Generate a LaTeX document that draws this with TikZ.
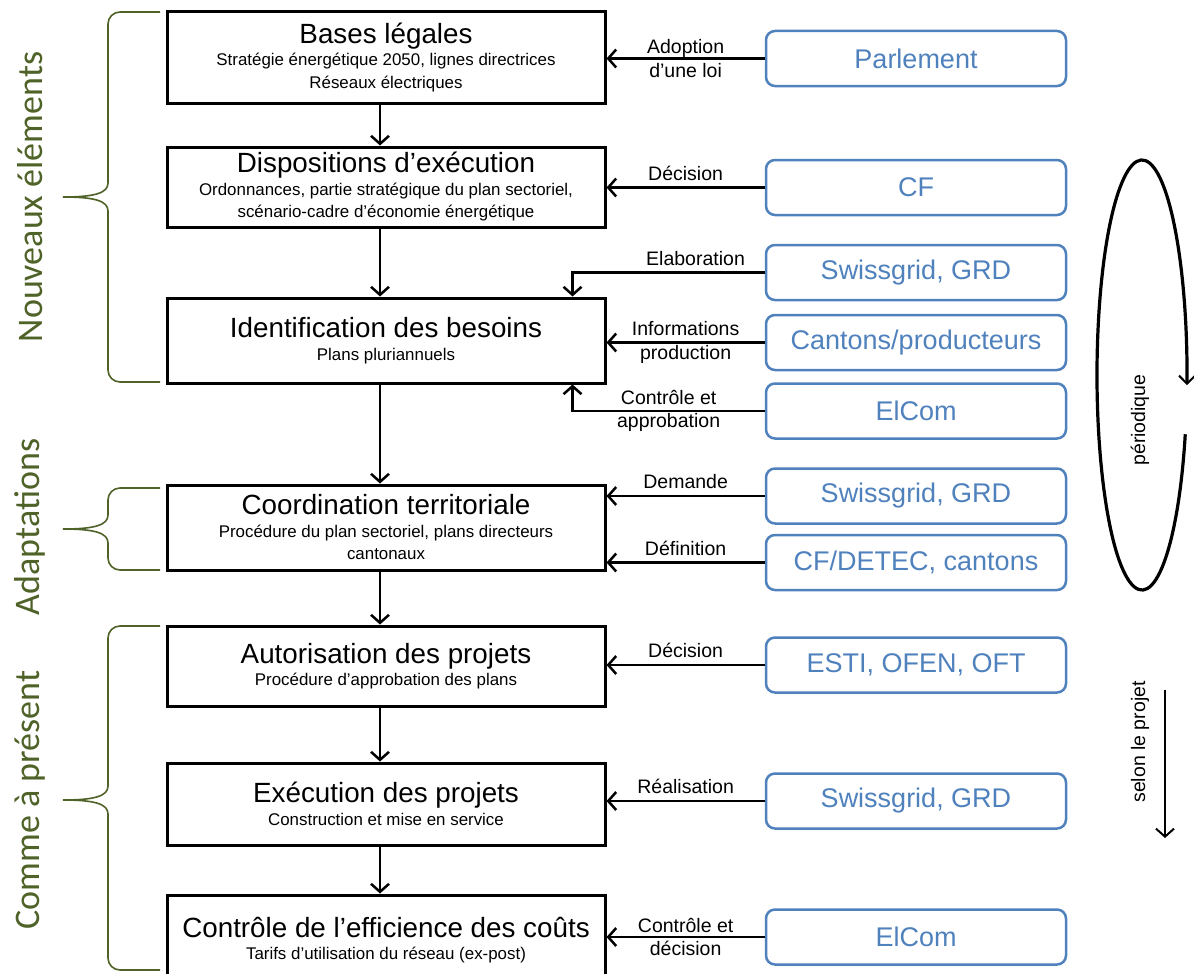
\documentclass[tikz,border=0pt]{standalone}
\usepackage{fontspec}
\setmainfont{Liberation Sans}
\newfontfamily\grpfont{Carlito}
\usetikzlibrary{arrows.meta}

\definecolor{actblue}{RGB}{79,129,189}
\definecolor{grpgreen}{RGB}{79,98,40}

\tikzset{
  stage/.style={draw, line width=3pt, minimum width=438pt, inner sep=0pt, align=center, font=\fontsize{16.9}{22.5}\selectfont},
  actor/.style={draw=actblue, line width=2.5pt, rounded corners=9pt, minimum width=300pt, minimum height=55pt, text=actblue, font=\fontsize{27}{30}\selectfont},
  flow/.style={line width=2.5pt, -{Straight Barb[length=8pt,width=18pt]}},
  lbl/.style={font=\fontsize{19.5}{23.5}\selectfont, align=center, inner sep=2pt},
  grp/.style={text=grpgreen, font=\grpfont\fontsize{36}{40}\selectfont, rotate=90},
  brace/.style={draw=grpgreen, line width=1.6pt},
  side/.style={font=\fontsize{19.5}{22}\selectfont, rotate=90}
}
\newcommand{\stagehead}[1]{{\fontsize{27.8}{30}\selectfont #1}}
% curly brace: top y, bottom y, tip y
\newcommand{\grpbrace}[3]{%
  \draw[brace] (160,#1) -- (120,#1) to[out=180,in=90] (108,#1+12) -- (108,#3-14)
    .. controls (108,#3-4) and (95,#3) .. (63,#3)
    .. controls (95,#3) and (108,#3+4) .. (108,#3+14)
    -- (108,#2-12) to[out=-90,in=180] (120,#2) -- (160,#2);}

\begin{document}
\begin{tikzpicture}[x=1pt, y=-1pt]
    \useasboundingbox (0,0) rectangle (1194,974);

    % --- Etapes ---
    \node[stage, minimum height=91pt] (bases) at (386,57.5) {\stagehead{Bases légales}\\Stratégie énergétique 2050, lignes directrices\\Réseaux électriques};
    \node[stage, minimum height=80pt] (dispo) at (386,187) {\stagehead{Dispositions d’exécution}\\Ordonnances, partie stratégique du plan sectoriel,\\scénario-cadre d’économie énergétique};
    \node[stage, minimum height=85pt] (besoins) at (386,340.5) {\stagehead{Identification des besoins}\\Plans pluriannuels};
    \node[stage, minimum height=85pt] (coord) at (386,527.5) {\stagehead{Coordination territoriale}\\Procédure du plan sectoriel, plans directeurs\\cantonaux};
    \node[stage, minimum height=80pt] (autor) at (386,666) {\stagehead{Autorisation des projets}\\Procédure d’approbation des plans};
    \node[stage, minimum height=82pt] (exec) at (386,804) {\stagehead{Exécution des projets}\\Construction et mise en service};
    \node[stage, minimum height=90pt] (couts) at (386,940) {\stagehead{Contrôle de l’efficience des coûts}\\Tarifs d’utilisation du réseau (ex-post)};

    \foreach \a/\b in {bases/dispo, dispo/besoins, besoins/coord, coord/autor, autor/exec, exec/couts}
        \draw[flow] ([xshift=-6pt]\a.south) -- ([xshift=-6pt]\b.north);

    % --- Acteurs ---
    \node[actor] (parl) at (916,58.5) {Parlement};
    \node[actor] (cf) at (916,187.5) {CF};
    \node[actor] (sgA) at (916,272.5) {Swissgrid, GRD};
    \node[actor] (cant) at (916,342.5) {Cantons/producteurs};
    \node[actor] (elcA) at (916,411) {ElCom};
    \node[actor] (sgB) at (916,496) {Swissgrid, GRD};
    \node[actor] (cfdetec) at (916,562.5) {CF/DETEC, cantons};
    \node[actor] (esti) at (916,665) {ESTI, OFEN, OFT};
    \node[actor] (sgC) at (916,801) {Swissgrid, GRD};
    \node[actor] (elcB) at (916,937) {ElCom};

    \draw[flow] (parl.west) -- (parl.west -| bases.east) node[lbl, midway] {Adoption\\d’une loi};
    \draw[flow] (cf.west) -- (cf.west -| dispo.east) node[lbl, midway, above=4pt] {Décision};
    \draw[flow] (sgA.west) -| ([xshift=-34pt]besoins.north east) node[lbl, pos=0.18, above=4pt] {Elaboration};
    \draw[flow] (cant.west) -- (cant.west -| besoins.east) node[lbl, midway] {Informations\\production};
    \draw[flow] (elcA.west) -| ([xshift=-34pt]besoins.south east) node[lbl, pos=0.25] {Contrôle et\\approbation};
    \draw[flow] (sgB.west) -- (sgB.west -| coord.east) node[lbl, midway, above=4pt] {Demande};
    \draw[flow] (cfdetec.west) -- (cfdetec.west -| coord.east) node[lbl, midway, above=4pt] {Définition};
    \draw[flow] (esti.west) -- (esti.west -| autor.east) node[lbl, midway, above=4pt] {Décision};
    \draw[flow] (sgC.west) -- (sgC.west -| exec.east) node[lbl, midway, above=4pt] {Réalisation};
    \draw[flow] (elcB.west) -- (elcB.west -| couts.east) node[lbl, midway] {Contrôle et\\décision};

    % --- Groupes ---
    \grpbrace{12}{382}{197}
    \grpbrace{488}{570}{529}
    \grpbrace{626}{970}{800}
    \node[grp] (nouv) at (30,197) {Nouveaux éléments};
    \node[grp] (adapt) at (30,527) {Adaptations};
    \node[grp] (comme) at (30,800) {Comme à présent};

    % --- Rythme ---
    \coordinate (cyc) at (1142,375);
    \draw[line width=3.2pt, -{Straight Barb[length=8pt,width=16pt,line width=2pt]}] (cyc) ++(16:45 and 215)
        arc[start angle=16, end angle=362.7, x radius=45, y radius=215];
    \node[side] (perio) at (1140,420) {périodique};
    \coordinate (projtop) at (1165,690);
    \coordinate (projbot) at (1165,838);
    \draw[flow, line width=2pt] (projtop) -- (projbot);
    \node[side] (projet) at (1140,742) {selon le projet};
\end{tikzpicture}
\end{document}
